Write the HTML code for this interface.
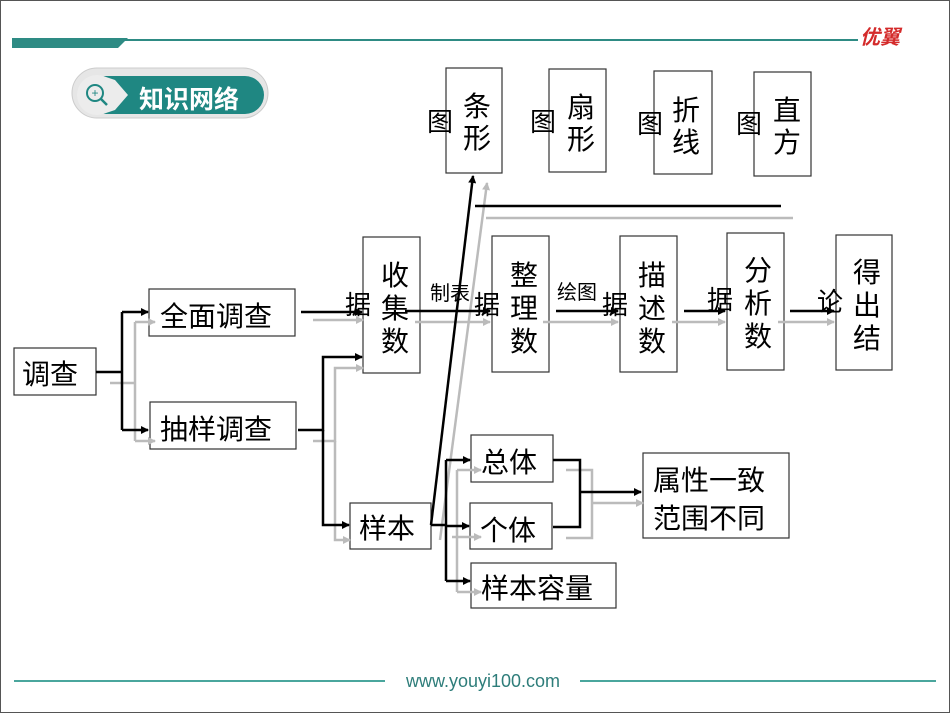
<!DOCTYPE html>
<html><head><meta charset="utf-8"><style>
html,body{margin:0;padding:0;background:#fff;}
svg{display:block;}
text{font-family:"Liberation Sans","Noto Sans CJK SC",sans-serif;}
</style></head><body>
<svg width="950" height="713" viewBox="0 0 950 713" xmlns="http://www.w3.org/2000/svg">
<defs>
<marker id="ab" markerWidth="8" markerHeight="8" refX="7" refY="4" orient="auto" markerUnits="userSpaceOnUse"><path d="M0,0 L8,4 L0,8 z" fill="#000"/></marker>
<marker id="ag" markerWidth="8" markerHeight="8" refX="7" refY="4" orient="auto" markerUnits="userSpaceOnUse"><path d="M0,0 L8,4 L0,8 z" fill="#bbb"/></marker>
</defs>
<rect x="0.5" y="0.5" width="949" height="712" fill="#fff" stroke="#555" stroke-width="1"/>
<!-- header -->
<line x1="12" y1="40" x2="858" y2="40" stroke="#2e8b84" stroke-width="2"/>
<path d="M12,38 L128,38 L118,48 L12,48 z" fill="#2e8b84"/>
<text x="860" y="44" font-size="20" font-weight="bold" font-style="italic" fill="#d42b2b">优翼</text>
<!-- badge -->
<rect x="72" y="68" width="196" height="50" rx="25" fill="#e6e6e6" stroke="#ccc"/>
<rect x="78" y="76" width="186" height="38" rx="19" fill="#1f8782"/>
<circle cx="97" cy="95" r="20" fill="#ececec"/>
<polygon points="100,75 115,80 128,95 115,110 100,115" fill="#ececec"/>
<circle cx="95" cy="93" r="8" fill="none" stroke="#1f8782" stroke-width="2"/>
<line x1="101" y1="99" x2="107" y2="105" stroke="#1f8782" stroke-width="2.5"/>
<text x="95" y="97" font-size="12" fill="#1f8782" text-anchor="middle">+</text>
<text x="139" y="108" font-size="25" font-weight="bold" fill="#fff">知识网络</text>
<!-- footer -->
<line x1="14" y1="681" x2="385" y2="681" stroke="#4aa69d" stroke-width="2"/>
<line x1="580" y1="681" x2="936" y2="681" stroke="#4aa69d" stroke-width="2"/>
<text x="483" y="687" font-size="18" fill="#2e7d7a" text-anchor="middle">www.youyi100.com</text>

<g fill="#fff" stroke="#333" stroke-width="1.2">
<rect x="14" y="348" width="82" height="47"/>
<rect x="149" y="289" width="146" height="47"/>
<rect x="150" y="402" width="146" height="47"/>
<rect x="363" y="237" width="57" height="136"/>
<rect x="492" y="236" width="57" height="136"/>
<rect x="620" y="236" width="57" height="136"/>
<rect x="727" y="233" width="57" height="137"/>
<rect x="836" y="235" width="56" height="135"/>
<rect x="446" y="68" width="56" height="105"/>
<rect x="549" y="69" width="57" height="103"/>
<rect x="654" y="71" width="58" height="103"/>
<rect x="754" y="72" width="57" height="104"/>
<rect x="350" y="503" width="81" height="46"/>
<rect x="471" y="435" width="82" height="47"/>
<rect x="470" y="503" width="82" height="46"/>
<rect x="471" y="563" width="145" height="45"/>
<rect x="643" y="453" width="146" height="85"/>
</g>

<g font-size="28" fill="#000">
<text x="22" y="384">调查</text>
<text x="160" y="326">全面调查</text>
<text x="160" y="439">抽样调查</text>
<text x="359" y="538">样本</text>
<text x="481" y="472">总体</text>
<text x="480" y="540">个体</text>
<text x="481" y="598">样本容量</text>
<text x="653" y="490">属性一致</text>
<text x="653" y="528">范围不同</text>
</g>
<g font-size="28" fill="#000" text-anchor="middle">
<text x="395" y="285">收</text><text x="395" y="318">集</text><text x="395" y="351">数</text>
<text x="524" y="285">整</text><text x="524" y="318">理</text><text x="524" y="351">数</text>
<text x="652" y="285">描</text><text x="652" y="318">述</text><text x="652" y="351">数</text>
<text x="758" y="280">分</text><text x="758" y="313">析</text><text x="758" y="346">数</text>
<text x="867" y="282">得</text><text x="867" y="315">出</text><text x="867" y="348">结</text>
<text x="477" y="116">条</text><text x="477" y="148">形</text>
<text x="581" y="117">扇</text><text x="581" y="149">形</text>
<text x="686" y="120">折</text><text x="686" y="152">线</text>
<text x="787" y="120">直</text><text x="787" y="152">方</text>
<text x="440" y="131" font-size="26">图</text>
<text x="543" y="131" font-size="26">图</text>
<text x="650" y="133" font-size="26">图</text>
<text x="749" y="133" font-size="26">图</text>
<text x="358" y="314" font-size="26">据</text>
<text x="487" y="314" font-size="26">据</text>
<text x="615" y="314" font-size="26">据</text>
<text x="720" y="309" font-size="26">据</text>
<text x="830" y="311" font-size="26">论</text>
</g>
<text x="430" y="300" font-size="20">制表</text>
<text x="557" y="299" font-size="20">绘图</text>

<!-- gray connectors -->
<g stroke="#bbb" stroke-width="2.5" fill="none">
<path d="M110,383 H135"/>
<path d="M135,322 V441"/>
<path d="M135,322 H155" marker-end="url(#ag)"/>
<path d="M135,441 H155" marker-end="url(#ag)"/>
<path d="M313,320 H363" marker-end="url(#ag)"/>
<path d="M313,441 H335 V368 H363" marker-end="url(#ag)"/>
<path d="M335,441 V540 H350" marker-end="url(#ag)"/>
<path d="M415,322 H490" marker-end="url(#ag)"/>
<path d="M543,322 H618" marker-end="url(#ag)"/>
<path d="M672,322 H725" marker-end="url(#ag)"/>
<path d="M778,322 H834" marker-end="url(#ag)"/>
<path d="M440,540 L487,183" marker-end="url(#ag)"/>
<path d="M486,218 H793"/>
<path d="M457,470 V592"/>
<path d="M457,470 H481" marker-end="url(#ag)"/>
<path d="M452,537 H481" marker-end="url(#ag)"/>
<path d="M457,592 H481" marker-end="url(#ag)"/>
<path d="M566,470 H592 V538 H566"/>
<path d="M592,503 H643" marker-end="url(#ag)"/>
</g>
<!-- black connectors -->
<g stroke="#000" stroke-width="2.5" fill="none">
<path d="M96,372 H122"/>
<path d="M122,312 V430"/>
<path d="M122,312 H148" marker-end="url(#ab)"/>
<path d="M122,430 H148" marker-end="url(#ab)"/>
<path d="M301,312 H362" marker-end="url(#ab)"/>
<path d="M298,430 H323 V357 H362" marker-end="url(#ab)"/>
<path d="M323,430 V525 H349" marker-end="url(#ab)"/>
<path d="M405,311 H490" marker-end="url(#ab)"/>
<path d="M556,311 H618" marker-end="url(#ab)"/>
<path d="M684,311 H725" marker-end="url(#ab)"/>
<path d="M790,311 H834" marker-end="url(#ab)"/>
<path d="M431,525 L473,176" marker-end="url(#ab)"/>
<path d="M475,206 H781"/>
<path d="M431,525 H446"/>
<path d="M446,460 V581"/>
<path d="M446,460 H470" marker-end="url(#ab)"/>
<path d="M446,526 H469" marker-end="url(#ab)"/>
<path d="M446,581 H470" marker-end="url(#ab)"/>
<path d="M553,460 H580 V527 H553"/>
<path d="M580,492 H641" marker-end="url(#ab)"/>
</g>
</svg>
</body></html>
